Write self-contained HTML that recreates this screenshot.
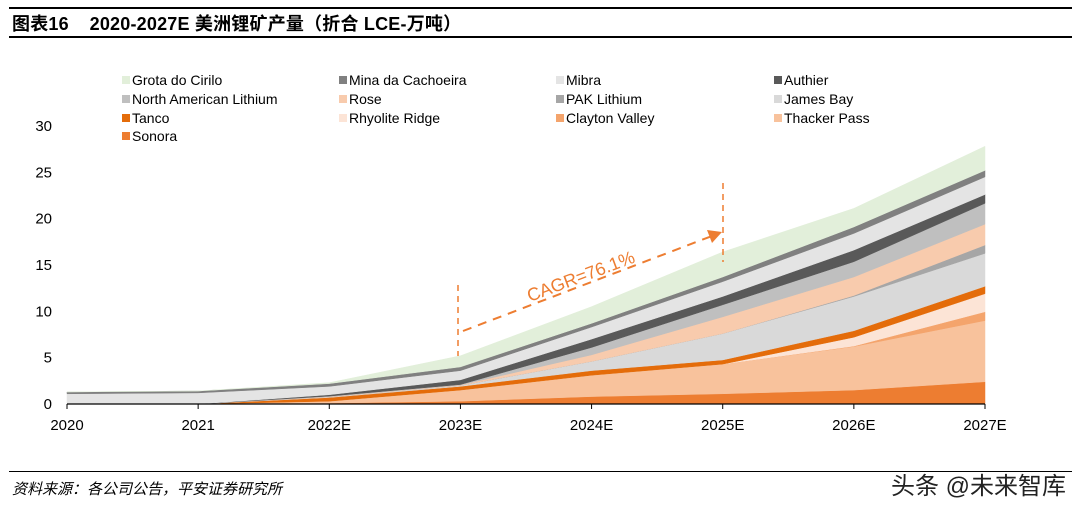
<!DOCTYPE html>
<html><head><meta charset="utf-8">
<style>
body{margin:0;background:#fff;width:1080px;height:508px;overflow:hidden;font-family:"Liberation Sans","Noto Sans CJK SC",sans-serif;}
#wrap{position:relative;width:1080px;height:508px;}
.title{position:absolute;left:12px;top:10px;font-size:18px;font-weight:bold;color:#000;letter-spacing:0.2px}
.hl{position:absolute;left:9px;width:1063px;background:#000;}
.src{position:absolute;left:12px;top:478px;font-size:15px;font-style:italic;color:#000}
.wm{position:absolute;right:14px;top:466px;font-size:24px;color:#222}
</style></head><body>
<div id="wrap">
<div class="hl" style="top:7px;height:2px"></div>
<div class="title">图表16&nbsp;&nbsp;&nbsp;&nbsp;2020-2027E 美洲锂矿产量（折合 LCE-万吨）</div>
<div class="hl" style="top:36px;height:2px"></div>
<svg id="chart" width="1080" height="508" style="position:absolute;left:0;top:0"></svg>
<div class="hl" style="top:471px;height:1px"></div>
<div class="src">资料来源：各公司公告，平安证券研究所</div>
<div class="wm">头条 @未来智库</div>
</div>
<script>
const categories=["2020","2021","2022E","2023E","2024E","2025E","2026E","2027E"];
const seriesNames=["Sonora","Thacker Pass","Clayton Valley","Rhyolite Ridge","Tanco","James Bay","PAK Lithium","Rose","North American Lithium","Authier","Mibra","Mina da Cachoeira","Grota do Cirilo"];
const sonora=[0,0,0.1,0.3,0.8,1.1,1.5,2.4];
const thacker=[0,0,0.2,1.2,2.3,3.2,4.7,6.6];
const clayton=[0,0,0,0,0,0,0.05,0.95];
const rhyolite=[0,0,0,0,0,0,0.95,1.95];
const tanco=[0,0,0.4,0.4,0.5,0.45,0.7,0.8];
const jamesBay=[0,0,0.05,0.1,1.0,2.85,3.7,3.55];
const pak=[0,0,0,0,0,0,0.1,0.9];
const rose=[0,0,0.05,0.05,0.7,1.8,2.0,2.25];
const nal=[0,0,0.05,0.05,0.8,1.3,1.65,2.25];
const authier=[0,0,0.15,0.5,0.9,0.9,1.25,0.95];
const mibra=[1.1,1.2,0.9,1.0,1.3,1.6,1.8,1.9];
const mina=[0.2,0.2,0.3,0.4,0.4,0.5,0.7,0.7];
const grota=[0,0,0.1,1.2,1.8,2.7,2.0,2.6];
const yTicks=[0,5,10,15,20,25,30];
const colors=["#ed7d31","#f8c29c","#f4a46c","#fce4d6","#e46c0a","#d9d9d9","#a6a6a6","#f8cbad","#bfbfbf","#595959","#e4e4e4","#808080","#e2efda"];
const series=[sonora,thacker,clayton,rhyolite,tanco,jamesBay,pak,rose,nal,authier,mibra,mina,grota];
const NS="http://www.w3.org/2000/svg";
const svg=document.getElementById('chart');
const X0=67,X1=985,Y0=404,PPU=9.27;
const xs=i=>X0+(X1-X0)*i/(categories.length-1);
const ys=v=>Y0-v*PPU;
function mk(t,a){const e=document.createElementNS(NS,t);for(const k in a)e.setAttribute(k,a[k]);svg.appendChild(e);return e;}
let cum=categories.map(()=>0);
series.forEach((s,si)=>{
  const lo=cum.slice(); const hi=cum.map((c,i)=>c+s[i]);
  let d="M"+categories.map((_,i)=>xs(i)+","+ys(hi[i])).join(" L");
  for(let i=categories.length-1;i>=0;i--)d+=" L"+xs(i)+","+ys(lo[i]);
  const p=mk('path',{d:d+"Z",fill:colors[si],stroke:colors[si],'stroke-width':0.5});
  
  
  cum=hi;
});
const ax=mk('line',{x1:X0,y1:Y0,x2:X1,y2:Y0,stroke:'#000','stroke-width':1.2});


categories.forEach((c,i)=>{
  const tk=mk('line',{x1:xs(i),y1:Y0,x2:xs(i),y2:Y0+5,stroke:'#000'});
  
  
  const t=mk('text',{x:xs(i),y:430,'text-anchor':'middle','font-size':15,fill:'#000'});
  t.textContent=c;
  
  
});
yTicks.forEach(v=>{
  const t=mk('text',{x:52,y:ys(v)+5,'text-anchor':'end','font-size':15,fill:'#000'});
  t.textContent=v;
  
  
});
const legendOrder=["Grota do Cirilo","Mina da Cachoeira","Mibra","Authier","North American Lithium","Rose","PAK Lithium","James Bay","Tanco","Rhyolite Ridge","Clayton Valley","Thacker Pass","Sonora"];
const colX=[132,349,566,784],rowY=[80,99,118,136];
legendOrder.forEach((n,k)=>{
  const si=seriesNames.indexOf(n);
  const x=colX[k%4],y=rowY[Math.floor(k/4)];
  const r=mk('rect',{x:x-10,y:y-4,width:8,height:8,fill:colors[si]});
  
  
  const t=mk('text',{x:x,y:y+5,'font-size':14,fill:'#000'});
  t.textContent=n;
  
  
});
const o='#ed7d31';
const a1=mk('line',{x1:458,y1:285,x2:458,y2:356,stroke:o,'stroke-width':1.5,'stroke-dasharray':'6,5'});


const a2=mk('line',{x1:723,y1:183,x2:723,y2:262,stroke:o,'stroke-width':1.5,'stroke-dasharray':'6,5'});


const a3=mk('line',{x1:463,y1:331,x2:712,y2:236,stroke:o,'stroke-width':2,'stroke-dasharray':'9,7'});


const ah=mk('path',{d:'M722,232 L707,230 L712,243 Z',fill:o});


const ct=mk('text',{x:0,y:0,'font-size':18,fill:o,transform:'translate(583,282) rotate(-20.6)','text-anchor':'middle'});
ct.textContent='CAGR=76.1%';


</script>
</body></html>
